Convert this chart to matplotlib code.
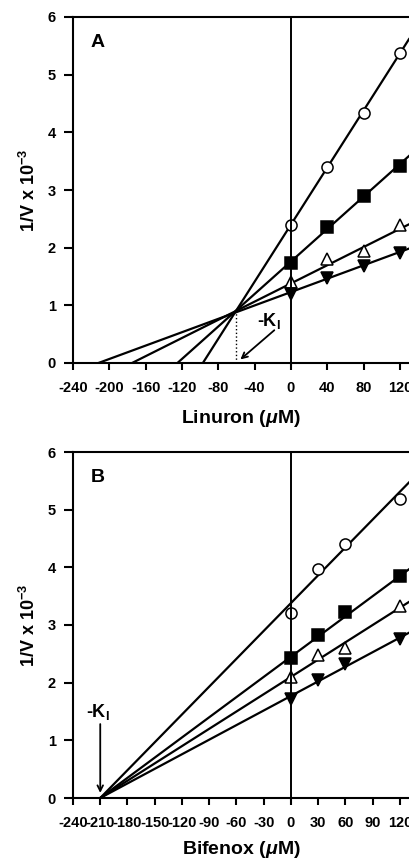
import numpy as np
import matplotlib
matplotlib.use('Agg')
import matplotlib.pyplot as plt

plt.rcParams['font.family'] = ['Liberation Sans', 'DejaVu Sans']
plt.rcParams['font.weight'] = 'bold'
plt.rcParams['mathtext.fontset'] = 'custom'
plt.rcParams['mathtext.it'] = 'Liberation Sans:italic:bold'
plt.rcParams['mathtext.rm'] = 'Liberation Sans:bold'

# panel A - Linuron
a_x = [0, 40, 80, 120]
a_circle = [2.40, 3.40, 4.33, 5.38]
a_square = [1.73, 2.35, 2.90, 3.42]
a_tri_up = [1.40, 1.80, 1.95, 2.40]
a_tri_down = [1.20, 1.48, 1.68, 1.90]
# fitted lines (x-intercept, y at x=0)
a_fit_x0 = [-97, -125, -175, -212]
a_fit_b = [2.40, 1.76, 1.38, 1.23]
a_ki = (-60.5, 0.88)

# panel B - Bifenox
b_x = [0, 30, 60, 120]
b_circle = [3.20, 3.97, 4.40, 5.18]
b_square = [2.43, 2.82, 3.23, 3.85]
b_tri_up = [2.10, 2.48, 2.60, 3.33]
b_tri_down = [1.72, 2.05, 2.33, 2.75]
b_fit_x0 = [-210, -210, -210, -210]
b_fit_b = [3.38, 2.45, 2.10, 1.77]

markers = [dict(marker='o', mfc='white', mec='black'),
           dict(marker='s', mfc='black', mec='black'),
           dict(marker='^', mfc='white', mec='black'),
           dict(marker='v', mfc='black', mec='black')]

W, H = 409, 861
fig = plt.figure(figsize=(W / 100, H / 100), dpi=100)
x_right = 130


def setup(ax, xticks, xlabel, letter, xpad):
    ax.set_xlim(-240, x_right)
    ax.set_ylim(0, 6)
    ax.spines['right'].set_visible(False)
    for s in ['left', 'bottom', 'top']:
        ax.spines[s].set_linewidth(1.5)
    ax.set_xticks(xticks)
    ax.set_xticklabels([str(t) for t in xticks])
    ax.set_yticks(range(7))
    ax.tick_params(axis='x', direction='out', length=5, width=1.5, pad=8, labelsize=10.5)
    ax.tick_params(axis='y', direction='out', length=6.5, width=1.5, pad=6, labelsize=10.5)
    ax.axvline(0, color='black', lw=1.4)
    ax.set_ylabel('1/V x 10$^{-3}$', fontsize=13, fontweight='bold', labelpad=6)
    ax.set_xlabel(xlabel, fontsize=14, fontweight='bold', labelpad=xpad)
    ax.text(-213, 5.55, letter, fontsize=14, fontweight='bold', ha='center', va='center')


def draw(ax, xs, series, x0s, bs):
    for ys, m, x0, b in zip(series, markers, x0s, bs):
        slope = b / -x0
        xx = np.array([x0, x_right])
        ax.plot(xx, b + slope * xx, color='black', lw=1.6, clip_on=True)
        ax.plot(xs, ys, linestyle='none', markersize=8, markeredgewidth=1.1, clip_on=False, **m)


axA = fig.add_axes([73 / W, 1 - 363 / H, (W - 73) / W, 346 / H])
draw(axA, a_x, [a_circle, a_square, a_tri_up, a_tri_down], a_fit_x0, a_fit_b)
setup(axA, list(range(-240, 121, 40)), r'Linuron ($\mu$M)', 'A', 9)
axA.plot([a_ki[0], a_ki[0]], [0, a_ki[1]], color='black', lw=1.0, linestyle=':')
axA.annotate('', xy=(-58, 0.03), xytext=(-16, 0.6),
             arrowprops=dict(arrowstyle='->', color='black', lw=1.3))
axA.text(-24, 0.72, '-K$_\\mathrm{I}$', fontsize=13, fontweight='bold', ha='center', va='center')

axB = fig.add_axes([73 / W, 1 - 798 / H, (W - 73) / W, 346 / H])
draw(axB, b_x, [b_circle, b_square, b_tri_up, b_tri_down], b_fit_x0, b_fit_b)
setup(axB, list(range(-240, 121, 30)), r'Bifenox ($\mu$M)', 'B', 6.5)
axB.annotate('', xy=(-210, 0.04), xytext=(-210, 1.33),
             arrowprops=dict(arrowstyle='->', color='black', lw=1.3))
axB.text(-212, 1.5, '-K$_\\mathrm{I}$', fontsize=13, fontweight='bold', ha='center', va='center')

fig.savefig('out.png', dpi=100)
